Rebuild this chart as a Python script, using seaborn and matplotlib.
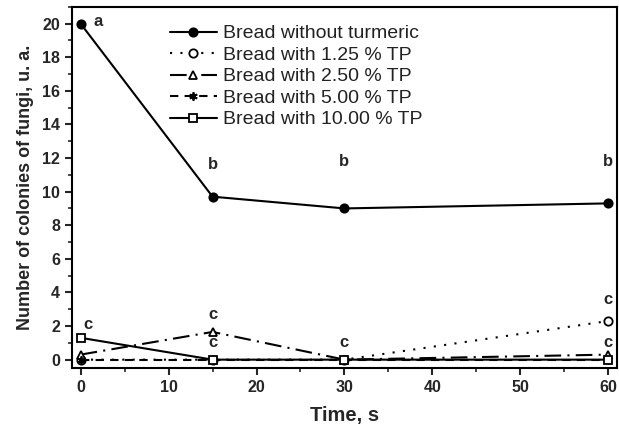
import matplotlib
matplotlib.use("Agg")
import matplotlib.pyplot as plt
import seaborn as sns
import pandas as pd
from matplotlib.ticker import MultipleLocator

sns.set_style("ticks")
plt.rcParams['font.family'] = ['Liberation Sans', 'DejaVu Sans']

time = [0, 15, 30, 60]
series_names = ["Bread without turmeric", "Bread with 1.25 % TP", "Bread with 2.50 % TP",
                "Bread with 5.00 % TP", "Bread with 10.00 % TP"]
v_without = [20, 9.7, 9.0, 9.3]
v_125 = [0, 0, 0, 2.3]
v_250 = [0.3, 1.65, 0, 0.3]
v_500 = [0, 0, 0, 0]
v_1000 = [1.3, 0, 0, 0]

letters = ["a", "b", "b", "b", "c", "c", "c", "c", "c", "c"]
letter_x = [2.0, 15, 30, 60, 0.8, 15, 15, 30, 60, 60]
letter_y = [20.1, 11.6, 11.8, 11.8, 2.1, 2.7, 1.0, 1.0, 3.6, 1.0]

values = [v_without, v_125, v_250, v_500, v_1000]
frames = []
for name, vals in zip(series_names, values):
    frames.append(pd.DataFrame({"time": time, "count": vals, "series": name}))
df = pd.concat(frames, ignore_index=True)

styles = {
    series_names[0]: dict(ls="-", marker="o", mfc="black", ms=12),
    series_names[1]: dict(ls=(0, (1, 4)), marker="o", mfc="white", ms=10.5),
    series_names[2]: dict(ls=(0, (8, 3, 1, 3)), marker="^", mfc="white", ms=10.5),
    series_names[3]: dict(ls=(0, (4, 3)), marker=(6, 2, 0), mfc="black", ms=11),
    series_names[4]: dict(ls="-", marker="s", mfc="white", ms=10.5),
}

fig = plt.figure(figsize=(6.19, 4.25), dpi=100)
ax = fig.add_axes([0.116, 0.134, 0.881, 0.85])

for name in series_names:
    st = styles[name]
    sns.lineplot(data=df[df["series"] == name], x="time", y="count", ax=ax,
                 color="black", linestyle=st["ls"], marker=st["marker"],
                 markerfacecolor=st["mfc"], markeredgecolor="black",
                 markersize=st["ms"], markeredgewidth=2.2, lw=1.5, label=name)

for t, x, y in zip(letters, letter_x, letter_y):
    ax.text(x, y, t, ha="center", va="center", fontsize=12, fontweight="bold")

ax.set_xlim(-1, 61)
ax.set_ylim(-0.5, 21)
ax.xaxis.set_major_locator(MultipleLocator(10))
ax.xaxis.set_minor_locator(MultipleLocator(5))
ax.yaxis.set_major_locator(MultipleLocator(2))
ax.yaxis.set_minor_locator(MultipleLocator(1))
ax.tick_params(which="major", direction="out", length=5, width=1.5, labelsize=11.5)
ax.tick_params(which="minor", direction="out", length=3, width=1.2)
for lbl in ax.get_xticklabels() + ax.get_yticklabels():
    lbl.set_fontweight("bold")
for sp in ax.spines.values():
    sp.set_linewidth(1.5)
    sp.set_color("black")

ax.set_xlabel("Time, s", fontsize=14.5, fontweight="bold", labelpad=8)
ax.set_ylabel("Number of colonies of fungi, u. a.", fontsize=13, fontweight="bold", labelpad=6)

handles, labels = ax.get_legend_handles_labels()
for h in handles:
    h.set_markersize(6)
    h.set_markeredgewidth(1.3)
leg = ax.legend(handles, labels, loc="upper left", bbox_to_anchor=(0.18, 0.95),
                frameon=False, fontsize=14, handlelength=2.4, labelspacing=0.2,
                handletextpad=0.35, borderpad=0, borderaxespad=0)
for t in leg.get_texts():
    t.set_color("#222222")

fig.savefig("out.png", dpi=100)
